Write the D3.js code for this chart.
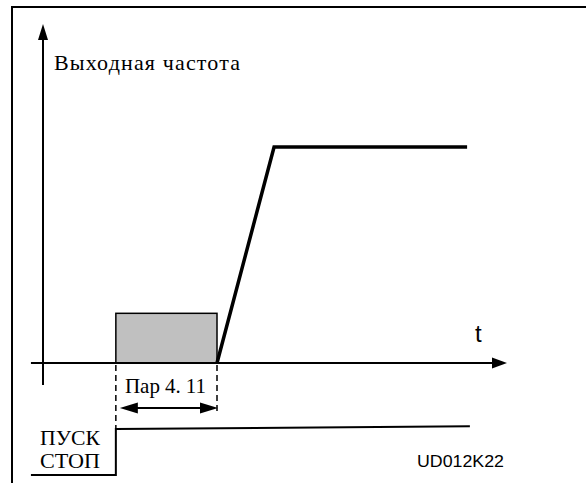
<!DOCTYPE html>
<html>
<head>
<meta charset="utf-8">
<script src="https://cdn.jsdelivr.net/npm/d3@7"></script>
<style>
  html, body { margin: 0; padding: 0; background: #fff; }
  svg { display: block; }
</style>
</head>
<body>
<svg id="chart" width="586" height="483"></svg>
<script>
// Output frequency after a start command: DC-brake interval (Par 4.11), ramp, steady run.
const timeExtent = [0, 10];          // time axis units
const freqExtent = [0, 1];           // relative output frequency
const brakeTime = [1.57, 3.75];      // start / end of the DC-brake interval
const brakeLevel = [0.23];           // height of the brake block
const rampTime = [3.75, 4.98, 9.14]; // ramp start, reach of set point, end of trace
const rampFreq = [0, 1, 1];
const signalTime = [-0.26, 1.57, 1.57, 9.2]; // start/stop command trace
const signalLevel = [0, 0, 1, 1.06];
const labels = {
  freq: "Выходная частота",
  time: "t",
  param: "Пар 4. 11",
  start: "ПУСК",
  stop: "СТОП",
  code: "UD012K22"
};

const svg = d3.select("#chart");
const serif = "'Times New Roman', 'Liberation Serif', 'DejaVu Serif', serif";
const sans = "Arial, 'Liberation Sans', sans-serif";

const x = d3.scaleLinear().domain(timeExtent).range([43, 507]);
const y = d3.scaleLinear().domain(freqExtent).range([363, 147]);
const ySig = d3.scaleLinear().domain([0, 1]).range([475, 429]);

// frame
svg.append("path")
  .attr("d", "M12,483 L12,7 L586,7")
  .attr("fill", "none").attr("stroke", "#000").attr("stroke-width", 2);

// brake block
svg.append("rect")
  .attr("x", x(brakeTime[0])).attr("y", y(brakeLevel[0]))
  .attr("width", x(brakeTime[1]) - x(brakeTime[0]))
  .attr("height", y(0) - y(brakeLevel[0]))
  .attr("fill", "#c0c0c0").attr("stroke", "#000").attr("stroke-width", 1.5);

// axes
svg.append("line")
  .attr("x1", x(-0.26)).attr("x2", x(timeExtent[1]) - 14)
  .attr("y1", y(0)).attr("y2", y(0))
  .attr("stroke", "#000").attr("stroke-width", 2);
svg.append("path")
  .attr("d", `M${x(timeExtent[1])},${y(0)} l-15,-5.5 l0,11 z`)
  .attr("fill", "#000");
svg.append("line")
  .attr("x1", x(0)).attr("x2", x(0))
  .attr("y1", 385).attr("y2", 38)
  .attr("stroke", "#000").attr("stroke-width", 2);
svg.append("path")
  .attr("d", `M${x(0)},24 l-5,16 l10,0 z`)
  .attr("fill", "#000");

// ramp and steady run
const line = d3.line().x(d => x(d[0])).y(d => y(d[1]));
svg.append("path")
  .attr("d", line(rampTime.map((t, i) => [t, rampFreq[i]])))
  .attr("fill", "none").attr("stroke", "#000")
  .attr("stroke-width", 3.5).attr("stroke-linejoin", "miter");

// dashed markers of the brake interval
svg.append("line")
  .attr("x1", x(brakeTime[0])).attr("x2", x(brakeTime[0]))
  .attr("y1", y(0) + 2).attr("y2", ySig(1))
  .attr("stroke", "#000").attr("stroke-width", 1.5)
  .attr("stroke-dasharray", "6,4");
svg.append("line")
  .attr("x1", x(brakeTime[1])).attr("x2", x(brakeTime[1]))
  .attr("y1", y(0) + 2).attr("y2", 413)
  .attr("stroke", "#000").attr("stroke-width", 1.5)
  .attr("stroke-dasharray", "6,4");

// double arrow for the interval length
const ay = 408;
const ax0 = x(brakeTime[0]) + 4, ax1 = x(brakeTime[1]) + 1;
svg.append("line")
  .attr("x1", ax0 + 10).attr("x2", ax1 - 10)
  .attr("y1", ay).attr("y2", ay)
  .attr("stroke", "#000").attr("stroke-width", 2);
svg.append("path")
  .attr("d", `M${ax0},${ay} l18,-5.5 l0,11 z M${ax1},${ay} l-18,-5.5 l0,11 z`)
  .attr("fill", "#000");

// start/stop command trace
const sigLine = d3.line().x(d => x(d[0])).y(d => ySig(d[1]));
svg.append("path")
  .attr("d", sigLine(signalTime.map((t, i) => [t, signalLevel[i]])))
  .attr("fill", "none").attr("stroke", "#000").attr("stroke-width", 2);

// texts
svg.append("text")
  .attr("x", 54).attr("y", 70)
  .attr("font-family", serif).attr("font-size", 22)
  .attr("textLength", 186).attr("lengthAdjust", "spacing")
  .text(labels.freq);
svg.append("text")
  .attr("x", 475).attr("y", 342)
  .attr("font-family", sans).attr("font-size", 24)
  .text(labels.time);
svg.append("text")
  .attr("x", 125).attr("y", 393)
  .attr("font-family", serif).attr("font-size", 21)
  .attr("textLength", 81).attr("lengthAdjust", "spacing")
  .text(labels.param);
svg.append("text")
  .attr("x", 40).attr("y", 445)
  .attr("font-family", serif).attr("font-size", 20)
  .attr("textLength", 60).attr("lengthAdjust", "spacingAndGlyphs")
  .text(labels.start);
svg.append("text")
  .attr("x", 40).attr("y", 468)
  .attr("font-family", serif).attr("font-size", 20)
  .attr("textLength", 60).attr("lengthAdjust", "spacingAndGlyphs")
  .text(labels.stop);
svg.append("text")
  .attr("x", 417).attr("y", 467)
  .attr("font-family", sans).attr("font-size", 17)
  .attr("textLength", 87).attr("lengthAdjust", "spacingAndGlyphs")
  .text(labels.code);
</script>
</body>
</html>
